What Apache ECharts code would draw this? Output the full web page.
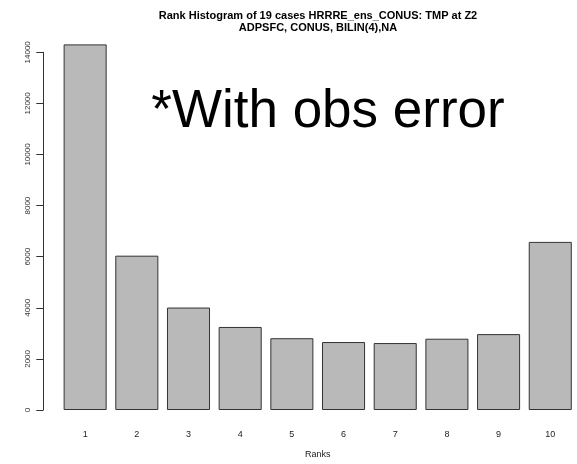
<!DOCTYPE html>
<html>
<head>
<meta charset="utf-8">
<script src="https://cdn.jsdelivr.net/npm/echarts@6/dist/echarts.min.js"></script>
<style>html,body{margin:0;padding:0;background:#fff}#c{width:577px;height:464px}</style>
</head>
<body>
<div id="c"></div>
<script>
const ranks = ['1','2','3','4','5','6','7','8','9','10'];
const counts = [14310, 6040, 4010, 3250, 2810, 2660, 2620, 2790, 2970, 6580];
const yTicks = [0, 2000, 4000, 6000, 8000, 10000, 12000, 14000];
const titleLines = ['Rank Histogram of 19 cases HRRRE_ens_CONUS: TMP at Z2', 'ADPSFC, CONUS, BILIN(4),NA'];
const xName = 'Ranks';
const note = '*With obs error';

const chart = echarts.init(document.getElementById('c'));
const font = 'Liberation Sans, Arial, sans-serif';
chart.setOption({
  animation: false,
  backgroundColor: '#fff',
  title: {
    text: titleLines.join('\n'),
    left: 313, top: 5, textAlign: 'center',
    textStyle: {fontSize: 11, fontWeight: 'bold', fontFamily: font, color: '#000', lineHeight: 12}
  },
  graphic: [{
    type: 'text', x: 328, y: 112,
    style: {text: note, fontSize: 53, fontFamily: font, fill: '#000', textAlign: 'center', textVerticalAlign: 'middle'}
  }],
  grid: {left: 59.3, right: 0.9, top: 52.3, bottom: 51.3},
  xAxis: {
    type: 'category', data: ranks,
    axisLine: {show: false}, axisTick: {show: false},
    axisLabel: {margin: 20, fontSize: 9, fontFamily: font, color: '#222'},
    name: xName, nameLocation: 'middle', nameGap: 40,
    nameTextStyle: {fontSize: 9, fontFamily: font, color: '#222'}
  },
  yAxis: {
    type: 'value', min: yTicks[0], max: yTicks[yTicks.length - 1], interval: yTicks[1] - yTicks[0],
    offset: 16,
    axisLine: {show: true, lineStyle: {color: '#333', width: 1}},
    axisTick: {show: true, length: 7, lineStyle: {color: '#333'}},
    splitLine: {show: false},
    axisLabel: {rotate: 90, margin: 12, fontSize: 8, fontFamily: font, color: '#333',
      formatter: v => String(v)}
  },
  series: [{
    type: 'bar', data: counts, clip: false,
    barCategoryGap: '16.7%',
    itemStyle: {color: '#b9b9b9', borderColor: '#333', borderWidth: 1}
  }]
});
</script>
</body>
</html>
